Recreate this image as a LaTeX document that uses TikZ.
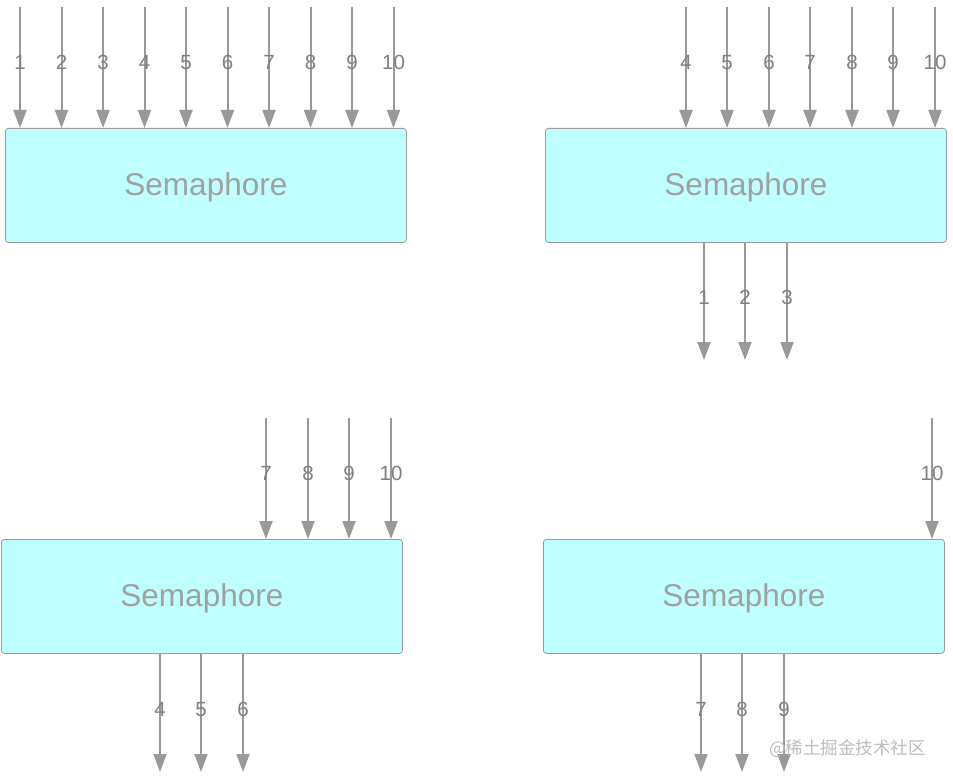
\documentclass[tikz,border=0pt]{standalone}
\usepackage{fontspec}
\setmainfont{Liberation Sans}
\newfontfamily\cjk{Noto Sans CJK SC}
\usetikzlibrary{arrows.meta}
\definecolor{boxfill}{HTML}{C0FFFF}
\definecolor{boxline}{HTML}{9A9A9A}
\definecolor{arrline}{HTML}{999999}
\definecolor{lbl}{HTML}{808080}
\definecolor{semtxt}{HTML}{A0A0A0}
\definecolor{wm}{HTML}{BDBDBD}
\tikzset{
  sem/.style={draw=boxline, line width=0.8pt, fill=boxfill, rounded corners=3pt,
    minimum width=401pt, minimum height=114pt, inner sep=0pt, anchor=north west,
    text=semtxt, font=\fontsize{31.5}{31.5}\selectfont},
  semtext/.style={text=semtxt, font=\fontsize{31.5}{31.5}\selectfont, inner sep=0pt},
  arr/.style={draw=arrline, line width=2pt, -{Triangle[width=13pt,length=18pt]}},
  num/.style={text=lbl, font=\fontsize{20.5}{20.5}\selectfont, inner sep=0pt},
}
\begin{document}
\begin{tikzpicture}[x=1pt,y=-1pt]
\useasboundingbox (0,0) rectangle (953,781);
% boxes
\node[sem] (A) at (5,128) {};
\node[sem] (B) at (545,128) {};
\node[sem] (C) at (1,539) {};
\node[sem] (D) at (543,539) {};
\node[semtext] (tA) at ([yshift=-2pt]A.center) {Semaphore};
\node[semtext] (tB) at ([yshift=-2pt]B.center) {Semaphore};
\node[semtext] (tC) at ([yshift=-2pt]C.center) {Semaphore};
\node[semtext] (tD) at ([yshift=-2pt]D.center) {Semaphore};
% top-left arrows 1..10
\foreach \i/\x in {1/20,2/61.5,3/103,4/144.5,5/186,6/227.5,7/269,8/310.5,9/352,10/393.5}{
  \coordinate (a\i) at (\x,7);
  \draw[arr] (a\i) -- (a\i |- A.north);
  \node[num] (la\i) at (\x,62.5) {\i};
}
% top-right arrows in 4..10
\foreach \i/\x in {4/686,5/727,6/769,7/810,8/852,9/893,10/935}{
  \coordinate (b\i) at (\x,7);
  \draw[arr] (b\i) -- (b\i |- B.north);
  \node[num] (lb\i) at (\x,62.5) {\i};
}
% top-right arrows out 1..3
\foreach \i/\x in {1/704,2/745,3/787}{
  \coordinate (bo\i) at (\x,360);
  \draw[arr] (bo\i |- B.south) -- (bo\i);
  \node[num] (lbo\i) at (\x,297.5) {\i};
}
% bottom-left arrows in 7..10
\foreach \i/\x in {7/266,8/308,9/349,10/391}{
  \coordinate (c\i) at (\x,418);
  \draw[arr] (c\i) -- (c\i |- C.north);
  \node[num] (lc\i) at (\x,473.5) {\i};
}
% bottom-left arrows out 4..6
\foreach \i/\x in {4/160,5/201,6/243}{
  \coordinate (co\i) at (\x,772);
  \draw[arr] (co\i |- C.south) -- (co\i);
  \node[num] (lco\i) at (\x,709.5) {\i};
}
% bottom-right arrow in 10
\coordinate (d10) at (932,418);
\draw[arr] (d10) -- (d10 |- D.north);
\node[num] (ld10) at (932,473.5) {10};
% bottom-right arrows out 7..9
\foreach \i/\x in {7/701,8/742,9/784}{
  \coordinate (do\i) at (\x,772);
  \draw[arr] (do\i |- D.south) -- (do\i);
  \node[num] (ldo\i) at (\x,709.5) {\i};
}
% watermark
\node[text=wm, font=\cjk\fontsize{17.5}{17.5}\selectfont, inner sep=0pt, anchor=west] (wmk) at (769,749) {@稀土掘金技术社区};
\end{tikzpicture}
\end{document}
